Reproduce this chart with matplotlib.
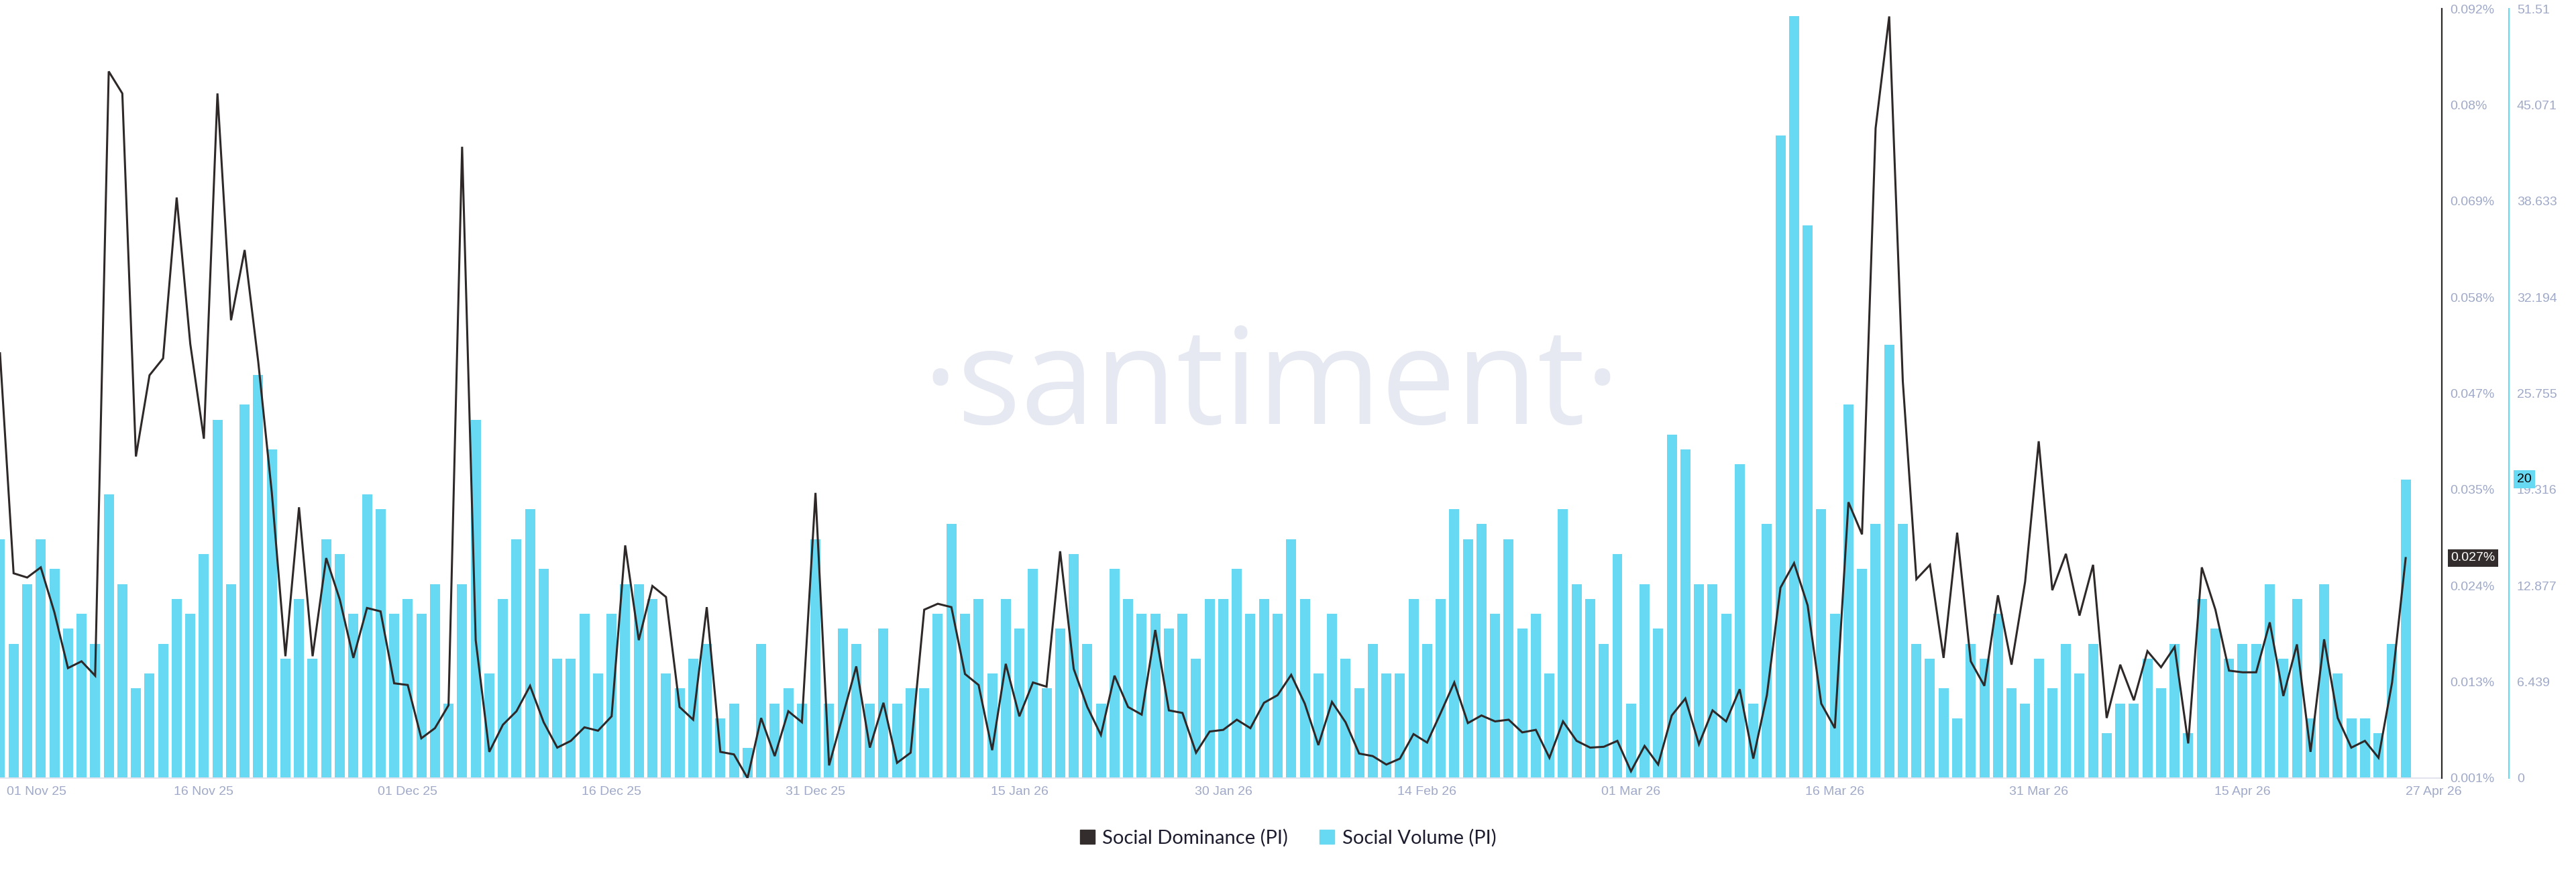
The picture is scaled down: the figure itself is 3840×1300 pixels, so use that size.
import matplotlib
matplotlib.use("Agg")
import matplotlib.pyplot as plt
from matplotlib.patches import Patch
from matplotlib.transforms import ScaledTranslation
import numpy as np
import pandas as pd

# daily data, 01 Nov 25 .. 27 Apr 26
dates = pd.date_range("2025-11-01", "2026-04-27", freq="D")

social_volume = [
    16, 9, 13, 16, 14, 10, 11, 9, 19, 13, 6, 7, 9, 12, 11, 15, 24, 13, 25, 27, 22, 8, 12, 8, 16, 15, 11, 19, 18, 11, 12, 11,
    13, 5, 13, 24, 7, 12, 16, 18, 14, 8, 8, 11, 7, 11, 13, 13, 12, 7, 6, 8, 9, 4, 5, 2, 9, 5, 6, 5, 16, 5,
    10, 9, 5, 10, 5, 6, 6, 11, 17, 11, 12, 7, 12, 10, 14, 6, 10, 15, 9, 5, 14, 12, 11, 11, 10, 11, 8, 12, 12, 14,
    11, 12, 11, 16, 12, 7, 11, 8, 6, 9, 7, 7, 12, 9, 12, 18, 16, 17, 11, 16, 10, 11, 7, 18, 13, 12, 9, 15, 5,
    13, 10, 23, 22, 13, 13, 11, 21, 5, 17, 43, 51, 37, 18, 11, 25, 14, 17, 29, 17, 9, 8, 6, 4, 9, 8, 11, 6, 5, 8,
    6, 9, 7, 9, 3, 5, 5, 8, 6, 9, 3, 12, 10, 8, 9, 9, 13, 8, 12, 4, 13, 7, 4, 4, 3, 9, 20,
]

# social dominance in percent
social_dominance = [
    0.0512, 0.0252, 0.0247, 0.0259, 0.0206, 0.0140, 0.0148, 0.0131, 0.0845, 0.0819, 0.0390, 0.0486, 0.0506, 0.0696,
    0.0523, 0.0411, 0.0819, 0.0551, 0.0634, 0.0502, 0.0347, 0.0154, 0.0330, 0.0154, 0.0270, 0.0221, 0.0152, 0.0211,
    0.0207, 0.0122, 0.0120, 0.0057,
    0.0069, 0.0096, 0.0756, 0.0173, 0.0041, 0.0073, 0.0089, 0.0119, 0.0076, 0.0046, 0.0054, 0.0070, 0.0066, 0.0083,
    0.0285, 0.0173, 0.0237, 0.0224, 0.0094, 0.0079, 0.0212, 0.0041, 0.0038, 0.0010, 0.0081, 0.0036, 0.0089, 0.0076,
    0.0347, 0.0025,
    0.0083, 0.0142, 0.0046, 0.0099, 0.0028, 0.0040, 0.0209, 0.0216, 0.0212, 0.0133, 0.0120, 0.0043, 0.0145, 0.0083,
    0.0123, 0.0118, 0.0278, 0.0139, 0.0094, 0.0061, 0.0131, 0.0094, 0.0085, 0.0185, 0.0090, 0.0087, 0.0040, 0.0065,
    0.0067, 0.0079,
    0.0069, 0.0099, 0.0108, 0.0132, 0.0098, 0.0049, 0.0100, 0.0076, 0.0039, 0.0036, 0.0026, 0.0033, 0.0062, 0.0052,
    0.0087, 0.0123, 0.0075, 0.0084, 0.0077, 0.0079, 0.0064, 0.0067, 0.0034, 0.0077, 0.0054, 0.0046, 0.0047, 0.0054,
    0.0018,
    0.0048, 0.0026, 0.0084, 0.0104, 0.0050, 0.0090, 0.0077, 0.0115, 0.0033, 0.0108, 0.0235, 0.0264, 0.0214, 0.0098,
    0.0069, 0.0336, 0.0298, 0.0778, 0.0910, 0.0479, 0.0245, 0.0262, 0.0152, 0.0300, 0.0148, 0.0119, 0.0226, 0.0144,
    0.0242, 0.0408,
    0.0232, 0.0275, 0.0202, 0.0262, 0.0081, 0.0144, 0.0102, 0.0160, 0.0141, 0.0165, 0.0051, 0.0259, 0.0209, 0.0137,
    0.0135, 0.0135, 0.0194, 0.0107, 0.0168, 0.0041, 0.0174, 0.0081, 0.0046, 0.0054, 0.0034, 0.0123, 0.0270,
]

tick_dates = list(pd.date_range("2025-11-01", "2026-04-15", freq="15D")) + [pd.Timestamp("2026-04-27")]
dom_tick_labels = ["0.001%", "0.013%", "0.024%", "0.035%", "0.047%", "0.058%", "0.069%", "0.08%", "0.092%"]
vol_tick_labels = ["0", "6.439", "12.877", "19.316", "25.755", "32.194", "38.633", "45.071", "51.51"]

BAR_C = "#68D9F2"
LINE_C = "#2E2828"
TICK_C = "#A0AAC8"
TICK_FONT = "Liberation Sans"

W, H = 3840, 1300
fig = plt.figure(figsize=(W / 100, H / 100), dpi=100)
ax_vol = fig.add_axes([0, 1 - 1160 / H, 3640 / W, (1160 - 13) / H])
ax_dom = ax_vol.twinx()

x = np.arange(len(dates))

ax_vol.bar(x, social_volume, width=0.74, color=BAR_C, zorder=2)
ax_dom.plot(x, social_dominance, color=LINE_C, lw=2.2, solid_joinstyle="miter")

ax_vol.set_xlim(0, 179.66)
ax_vol.set_ylim(0, max(social_volume) * 1.01)
ax_dom.set_ylim(min(social_dominance), max(social_dominance) * 1.01)

ax_vol.set_yticks(np.linspace(*ax_vol.get_ylim(), 9))
ax_vol.set_yticklabels(vol_tick_labels)
ax_dom.set_yticks(np.linspace(*ax_dom.get_ylim(), 9))
ax_dom.set_yticklabels(dom_tick_labels)
ax_vol.yaxis.tick_right()

tick_pos = [dates.get_loc(d) for d in tick_dates]
ax_vol.set_xticks(tick_pos)
ax_vol.set_xticklabels([d.strftime("%d %b %y") for d in tick_dates])

for a in (ax_vol, ax_dom):
    a.tick_params(length=0, labelsize=14, labelcolor=TICK_C, labelfontfamily=TICK_FONT)
ax_vol.tick_params(axis="y", pad=8.6)
ax_dom.tick_params(axis="y", pad=8.6)
ax_vol.tick_params(axis="x", pad=8.6)

xticks = ax_vol.xaxis.get_major_ticks()
xticks[0].label1.set_horizontalalignment("left")
xticks[0].label1.set_transform(xticks[0].label1.get_transform()
                               + ScaledTranslation(0.1, 0, fig.dpi_scale_trans))
xticks[-1].label1.set_horizontalalignment("left")

for s in ("top", "left"):
    ax_vol.spines[s].set_visible(False)
    ax_dom.spines[s].set_visible(False)
ax_dom.spines["bottom"].set_visible(False)
ax_vol.spines["bottom"].set_color("#E1E4EE")
ax_vol.spines["bottom"].set_linewidth(1.5)
ax_vol.spines["right"].set_position(("outward", 72))
ax_vol.spines["right"].set_color(BAR_C)
ax_vol.spines["right"].set_linewidth(1.5)
ax_dom.spines["right"].set_color(LINE_C)
ax_dom.spines["right"].set_linewidth(1.6)

# current value markers
ax_dom.annotate(f"{social_dominance[-1]:.3f}%", xy=(1, social_dominance[-1]),
                xycoords=("axes fraction", "data"), xytext=(9.4, 0), textcoords="offset points",
                ha="left", va="center", fontsize=14, family=TICK_FONT, color="white",
                bbox=dict(boxstyle="square,pad=0.22", fc="#342D2D", ec="none"),
                annotation_clip=False, zorder=5)
ax_vol.annotate(f"{social_volume[-1]}", xy=(1, social_volume[-1]),
                xycoords=("axes fraction", "data"), xytext=(80.6, 0), textcoords="offset points",
                ha="left", va="center", fontsize=14, family=TICK_FONT, color="black",
                bbox=dict(boxstyle="square,pad=0.25", fc=BAR_C, ec="none"),
                annotation_clip=False, zorder=5)

# watermark
ax_vol.text(1895 / W, 1 - 632 / H, "\u00b7santiment\u00b7", transform=fig.transFigure,
            ha="center", va="baseline", fontsize=143, family="Open Sans", color="#E6E9F2", zorder=0.5)

fig.legend(handles=[Patch(color="#342D2D", label="Social Dominance (PI)"),
                    Patch(color=BAR_C, label="Social Volume (PI)")],
           loc="center", bbox_to_anchor=(0.5, 1 - 1249 / H), ncol=2, frameon=False,
           prop={"family": "Lato", "size": 21}, labelcolor="#1D1D2F",
           handlelength=0.75, handleheight=0.75, handletextpad=0.4, columnspacing=1.6)

fig.savefig("out.png", dpi=100)
